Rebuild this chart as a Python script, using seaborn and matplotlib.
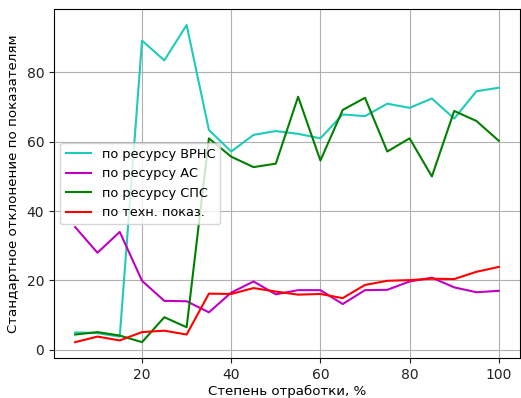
import matplotlib
matplotlib.use("Agg")
import matplotlib.pyplot as plt
import seaborn as sns
import pandas as pd

x_vals = [5, 10, 15, 20, 25, 30, 35, 40, 45, 50, 55, 60, 65, 70, 75, 80, 85, 90, 95, 100]

vrns = [5.0, 4.8, 3.8, 89.2, 83.5, 93.7, 63.4, 57.2, 62.0, 63.1,
        62.3, 61.0, 67.9, 67.4, 71.0, 69.8, 72.5, 66.7, 74.6, 75.6]
as_ = [35.4, 28.0, 34.0, 19.9, 14.1, 14.0, 10.8, 16.5, 19.7, 16.0,
       17.2, 17.2, 13.2, 17.2, 17.3, 19.7, 20.8, 18.0, 16.6, 17.0]
sps = [4.4, 5.1, 4.1, 2.2, 9.4, 6.5, 61.0, 55.7, 52.7, 53.7,
       73.0, 54.6, 69.2, 72.7, 57.2, 61.0, 50.0, 68.9, 66.0, 60.3]
tech = [2.2, 3.8, 2.7, 5.1, 5.5, 4.4, 16.2, 16.1, 17.8, 16.8,
        15.9, 16.1, 14.9, 18.7, 19.9, 20.1, 20.5, 20.4, 22.5, 23.9]

labels = ["по ресурсу ВРНС", "по ресурсу АС", "по ресурсу СПС", "по техн. показ."]
colors = ["#1ecbb8", "#c000c0", "#008000", "#ff0000"]

rows = []
for lab, ser in zip(labels, [vrns, as_, sps, tech]):
    for xv, yv in zip(x_vals, ser):
        rows.append({"x": xv, "y": yv, "series": lab})
df = pd.DataFrame(rows)

plt.rcParams["font.family"] = ["DejaVu Sans"]
fig = plt.figure(figsize=(5.21, 3.98), dpi=100)
ax = fig.add_axes([0.1036, 0.1005, 0.8944, 0.8765])

sns.lineplot(data=df, x="x", y="y", hue="series", hue_order=labels,
             palette=colors, linewidth=1.5, ax=ax, sort=False)

ax.grid(True, color="#b0b0b0", linewidth=0.8)
ax.set_xticks([20, 40, 60, 80, 100])
ax.set_yticks([0, 20, 40, 60, 80])
ax.set_xlabel("Степень отработки, %", fontsize=9.6, labelpad=2)
ax.set_ylabel("Стандартное отклонение по показателям", fontsize=9.6, labelpad=5)
ax.tick_params(labelsize=10, colors="#222222")
for s in ax.spines.values():
    s.set_color("black")
    s.set_linewidth(0.8)
leg = ax.legend(loc="center left", fontsize=9.3, frameon=True)
leg.set_title(None)

fig.savefig("out.png", dpi=100)
